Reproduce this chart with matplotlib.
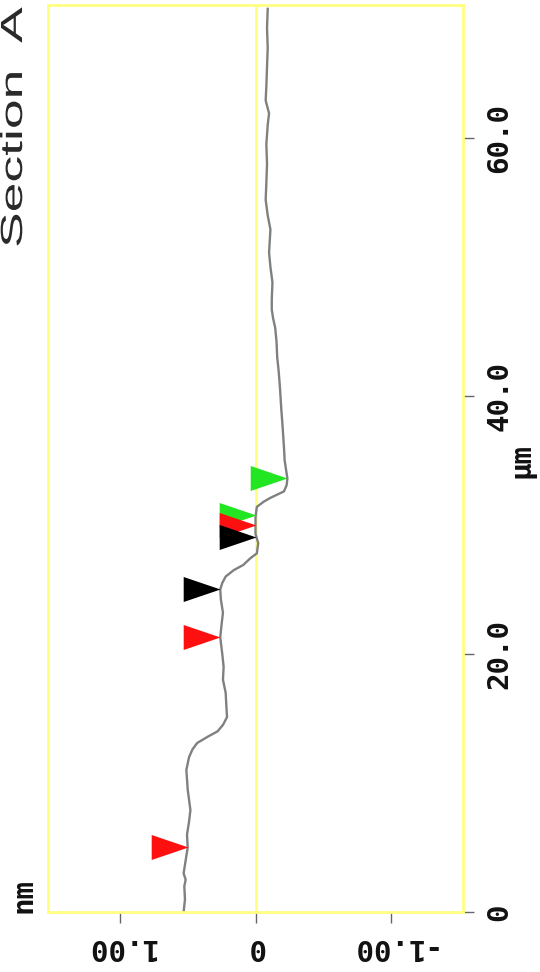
import matplotlib
matplotlib.use("Agg")
import matplotlib.pyplot as plt
from matplotlib.path import Path
from matplotlib.transforms import Affine2D
from matplotlib.patheffects import AbstractPathEffect

# Section profile: lateral distance (um) and height (nm)
distance_um = [0.0, 1.0, 2.0, 2.5, 3.0, 4.0, 5.0, 6.0, 7.0, 7.9, 8.7, 9.5, 10.3, 11.0,
               12.0, 12.6, 13.1, 13.6, 14.0, 14.5, 15.1, 16.0, 17.0, 18.0, 19.0, 20.0,
               21.3, 22.3, 23.2, 24.2, 25.0, 25.5, 26.0, 26.5, 26.9, 27.4, 27.8, 28.6,
               29.3, 30.0, 30.6, 31.4, 31.8, 32.1, 32.6, 33.1, 33.6, 34.3, 35.0, 36.0,
               37.6, 39.0, 40.7, 42.0, 43.0, 44.2, 45.3, 46.0, 46.7, 47.5, 48.8, 50.0,
               51.1, 52.0, 52.9, 54.0, 55.2, 56.5, 58.0, 59.5, 61.0, 61.9, 62.9, 64.0,
               65.5, 67.0, 68.5, 70.0]
height_nm = [0.53, 0.52, 0.525, 0.515, 0.53, 0.515, 0.50, 0.505, 0.49, 0.48, 0.49, 0.50,
             0.505, 0.51, 0.49, 0.465, 0.43, 0.35, 0.28, 0.24, 0.21, 0.215, 0.22, 0.24,
             0.235, 0.245, 0.26, 0.25, 0.24, 0.255, 0.26, 0.245, 0.22, 0.16, 0.09, 0.04,
             -0.01, -0.02, 0.0, 0.0, 0.0, -0.01, -0.06, -0.11, -0.21, -0.23, -0.235,
             -0.225, -0.215, -0.21, -0.20, -0.19, -0.18, -0.17, -0.16, -0.155, -0.145,
             -0.13, -0.12, -0.12, -0.125, -0.11, -0.10, -0.105, -0.11, -0.09, -0.075,
             -0.08, -0.085, -0.08, -0.09, -0.10, -0.075, -0.08, -0.085, -0.09, -0.085,
             -0.09]

# Cursor markers (height nm, distance um)
green_cursors = [(0.0, 30.8), (-0.235, 33.6)]
red_cursors = [(0.50, 5.0), (0.26, 21.3), (0.0, 30.0)]
black_cursors = [(0.26, 25.0), (0.0, 29.1)]

height_ticks = [1.0, 0.0, -1.0]
height_tick_labels = ["1.00", "0", "-1.00"]
distance_ticks = [0, 20, 40, 60]
distance_tick_labels = ["0", "20.0", "40.0", "60.0"]


class StretchText(AbstractPathEffect):
    """Widen glyphs along the text's own baseline direction."""

    def __init__(self, sx):
        super().__init__()
        self._sx = sx

    def draw_path(self, renderer, gc, tpath, affine, rgbFace=None):
        renderer.draw_path(gc, tpath, Affine2D().scale(self._sx, 1.0) + affine, rgbFace)


W, H = 540, 972
fig = plt.figure(figsize=(W / 100, H / 100), dpi=100)
fig.patch.set_facecolor("white")

ax_left, ax_right, ax_top, ax_bottom = 48, 463, 5, 912
ax = fig.add_axes([ax_left / W, (H - ax_bottom) / H,
                   (ax_right - ax_left) / W, (ax_bottom - ax_top) / H])
ax.set_facecolor("white")

frame_color = "#ffff80"
for sp in ax.spines.values():
    sp.set_color(frame_color)
    sp.set_linewidth(2.0)
ax.axvline(0.0, color=frame_color, lw=2.0, zorder=1)

ax.plot(height_nm, distance_um, color="#808080", lw=1.7, zorder=2,
        solid_joinstyle="round")

# cursor triangle with its tip at the anchor point
tri = Path([(0, 0), (-1, 0.34), (-1, -0.34), (0, 0)],
           [Path.MOVETO, Path.LINETO, Path.LINETO, Path.CLOSEPOLY])
for pts, col, z in [(green_cursors, "#22e622", 3), (red_cursors, "#ff1010", 4),
                    (black_cursors, "#000000", 5)]:
    xs = [p[0] for p in pts]
    ys = [p[1] for p in pts]
    ax.plot(xs, ys, linestyle="none", marker=tri, markersize=53,
            markerfacecolor=col, markeredgecolor="none", zorder=z, clip_on=False)

ax.set_xlim(1.53, -1.53)
ax.set_ylim(0, 70.3)

tick_font = dict(family="DejaVu Sans Mono", weight="bold", size=21)
ax.set_xticks(height_ticks)
ax.set_xticklabels(height_tick_labels, rotation=180, color="#111111", **tick_font)
ax.yaxis.tick_right()
ax.set_yticks(distance_ticks)
ax.set_yticklabels(distance_tick_labels, rotation=90, va="center", color="#111111",
                   **tick_font)
ax.tick_params(axis="x", direction="out", length=8, width=1, color="#666666", pad=7)
ax.tick_params(axis="y", direction="out", length=8, width=1, color="#666666", pad=8)

# unit labels
fig.text(23 / W, (H - 895) / H, "nm", rotation=90, ha="center", va="center",
         color="#111111", **tick_font)
fig.text(522 / W, (H - 460) / H, "µm", rotation=90, ha="center", va="center",
         color="#111111", **tick_font)

# title
title = fig.text(22 / W, (H - 248) / H, "Section  A", rotation=90, rotation_mode="anchor",
                 ha="left", va="baseline", color="#2a2a2a",
                 family="Liberation Sans", size=22)
title.set_path_effects([StretchText(1.75)])

fig.savefig("out.png", dpi=100, facecolor="white")
